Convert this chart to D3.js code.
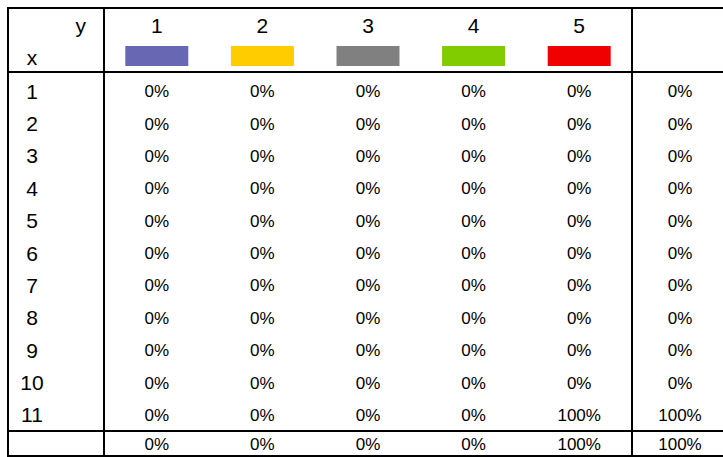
<!DOCTYPE html>
<html>
<head>
<meta charset="utf-8">
<script src="https://cdn.jsdelivr.net/npm/d3@7"></script>
<style>
  body { margin: 0; background: #fff; }
  text { font-family: "Liberation Sans", Arial, sans-serif; fill: #000; }
</style>
</head>
<body>
<div id="graph"></div>
<script>
'use strict';

// table data
const yCats = ["1", "2", "3", "4", "5"];
const xCats = ["1", "2", "3", "4", "5", "6", "7", "8", "9", "10", "11"];
const yColors = ["#6767b3", "#ffcc00", "#808080", "#80cc00", "#f00000"];
// share of each x row going to each y column (percent)
const cellValues = [
  [0, 0, 0, 0, 0],
  [0, 0, 0, 0, 0],
  [0, 0, 0, 0, 0],
  [0, 0, 0, 0, 0],
  [0, 0, 0, 0, 0],
  [0, 0, 0, 0, 0],
  [0, 0, 0, 0, 0],
  [0, 0, 0, 0, 0],
  [0, 0, 0, 0, 0],
  [0, 0, 0, 0, 0],
  [0, 0, 0, 0, 100]
];
const rowTotals = [0, 0, 0, 0, 0, 0, 0, 0, 0, 0, 100];
const colTotals = [0, 0, 0, 0, 100];
const grandTotal = 100;

(function() {
  const W = 723, H = 457;
  const svg = d3.select('#graph').append('svg')
    .attr('width', W)
    .attr('height', H);

  // layout
  const left = 8, top = 8, divX = 104, rightDiv = 632, totalX = 680;
  const headBottom = 72, footTop = 431, bottom = 456;

  const xScale = d3.scaleBand().domain(yCats).range([divX, rightDiv]);
  const yScale = d3.scaleBand().domain(xCats).range([75, footTop]);
  const colorOf = d3.scaleOrdinal().domain(yCats).range(yColors);
  const fmt = v => v + '%';

  // grid lines
  const hLines = [top, headBottom, footTop, bottom];
  svg.selectAll('.hline').data(hLines).enter().append('line')
    .attr('x1', left).attr('x2', W)
    .attr('y1', d => d).attr('y2', d => d)
    .attr('stroke', '#000').attr('stroke-width', 2);
  const vLines = [left, divX, rightDiv];
  svg.selectAll('.vline').data(vLines).enter().append('line')
    .attr('x1', d => d).attr('x2', d => d)
    .attr('y1', top - 1).attr('y2', bottom + 1)
    .attr('stroke', '#000').attr('stroke-width', 2);

  // corner labels
  svg.append('text').attr('x', 86).attr('y', 33)
    .attr('text-anchor', 'end').style('font-size', '21px').text('y');
  svg.append('text').attr('x', 32).attr('y', 65)
    .attr('text-anchor', 'middle').style('font-size', '21px').text('x');

  // column headers with colour keys
  svg.selectAll('.colHead').data(yCats).enter().append('text')
    .attr('x', d => xScale(d) + xScale.bandwidth() / 2)
    .attr('y', 33)
    .attr('text-anchor', 'middle')
    .style('font-size', '21px')
    .text(d => d);
  svg.selectAll('.colKey').data(yCats).enter().append('rect')
    .attr('x', d => xScale(d) + xScale.bandwidth() / 2 - 31.5)
    .attr('y', 46)
    .attr('width', 63)
    .attr('height', 20)
    .attr('fill', d => colorOf(d));

  // row labels
  svg.selectAll('.rowHead').data(xCats).enter().append('text')
    .attr('x', 32)
    .attr('y', d => yScale(d) + yScale.bandwidth() / 2)
    .attr('dy', '0.36em')
    .attr('text-anchor', 'middle')
    .style('font-size', '21px')
    .text(d => d);

  // cells
  const rows = svg.selectAll('.row').data(cellValues).enter().append('g')
    .attr('transform', (d, i) => 'translate(0,' + (yScale(xCats[i]) + yScale.bandwidth() / 2) + ')');
  rows.selectAll('text').data(d => d).enter().append('text')
    .attr('x', (d, j) => xScale(yCats[j]) + xScale.bandwidth() / 2)
    .attr('dy', '0.36em')
    .attr('text-anchor', 'middle')
    .style('font-size', '17px')
    .text(fmt);
  rows.append('text')
    .attr('x', totalX)
    .attr('dy', '0.36em')
    .attr('text-anchor', 'middle')
    .style('font-size', '17px')
    .text((d, i) => fmt(rowTotals[i]));

  // footer totals
  const footY = (footTop + bottom) / 2 + 0.5;
  svg.selectAll('.colTotal').data(colTotals).enter().append('text')
    .attr('x', (d, j) => xScale(yCats[j]) + xScale.bandwidth() / 2)
    .attr('y', footY)
    .attr('dy', '0.36em')
    .attr('text-anchor', 'middle')
    .style('font-size', '17px')
    .text(fmt);
  svg.append('text')
    .attr('x', totalX).attr('y', footY)
    .attr('dy', '0.36em')
    .attr('text-anchor', 'middle')
    .style('font-size', '17px')
    .text(fmt(grandTotal));
})();
</script>
</body>
</html>
